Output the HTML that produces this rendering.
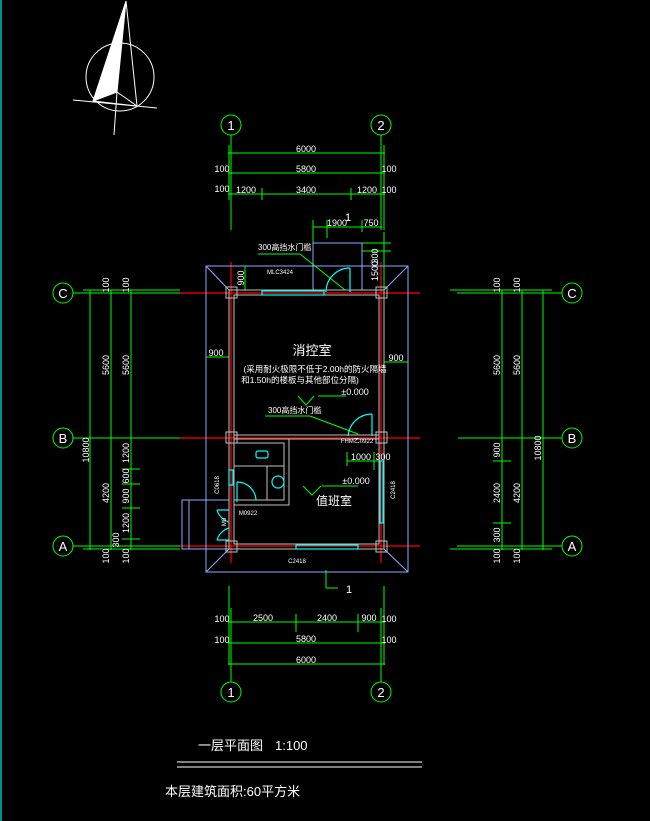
<!DOCTYPE html>
<html><head><meta charset="utf-8"><style>
html,body{margin:0;padding:0;background:#000;width:650px;height:821px;overflow:hidden}
svg{display:block}
text{font-family:"Liberation Sans","Noto Sans CJK SC",sans-serif;fill:#fff}
</style></head><body>
<svg width="650" height="821" viewBox="0 0 650 821" xmlns="http://www.w3.org/2000/svg">
<rect width="650" height="821" fill="#000"/>
<line x1="1" y1="0" x2="1" y2="821" stroke="#00c0c0" stroke-width="1.5"/>

<!-- compass -->
<g stroke="#fff" stroke-width="1" fill="none">
<circle cx="120" cy="77" r="34"/>
<polygon points="126,1 93,101 117,92" fill="#fff"/>
<line x1="126" y1="1" x2="137" y2="106"/>
<line x1="73" y1="100" x2="157" y2="108"/>
<line x1="117" y1="92" x2="114" y2="135"/>
<line x1="117" y1="92" x2="137" y2="106"/>
<line x1="93" y1="101" x2="137" y2="106"/>
</g>

<!-- axis bubbles -->
<g stroke="#00ff00" stroke-width="1" fill="none">
<circle cx="231" cy="125" r="10"/><circle cx="381" cy="125" r="10"/>
<circle cx="231" cy="692" r="10"/><circle cx="381" cy="692" r="10"/>
<circle cx="63" cy="293" r="10"/><circle cx="63" cy="438" r="10"/><circle cx="63" cy="546" r="10"/>
<circle cx="572" cy="293" r="10"/><circle cx="572" cy="438" r="10"/><circle cx="572" cy="546" r="10"/>
</g>
<g font-size="13" text-anchor="middle">
<text x="231" y="130">1</text><text x="381" y="130">2</text>
<text x="231" y="697">1</text><text x="381" y="697">2</text>
<text x="63" y="298">C</text><text x="63" y="443">B</text><text x="63" y="551">A</text>
<text x="572" y="298">C</text><text x="572" y="443">B</text><text x="572" y="551">A</text>
</g>

<!-- green dimension lines -->
<g stroke="#00ff00" stroke-width="1" fill="none">
<line x1="231" y1="135" x2="231" y2="230"/><line x1="381" y1="135" x2="381" y2="230"/>
<line x1="229" y1="145" x2="229" y2="200"/><line x1="384" y1="145" x2="384" y2="230"/>
<line x1="228" y1="153" x2="385" y2="153"/>
<line x1="228" y1="173" x2="385" y2="173"/>
<line x1="228" y1="194" x2="385" y2="194"/>
<line x1="262" y1="188" x2="262" y2="200"/><line x1="351" y1="188" x2="351" y2="200"/>
<line x1="313" y1="227" x2="382" y2="227"/>
<line x1="313" y1="220" x2="313" y2="243"/><line x1="327" y1="220" x2="327" y2="238"/><line x1="362" y1="220" x2="362" y2="232"/>
<line x1="362" y1="243" x2="391" y2="243"/><line x1="362" y1="251" x2="391" y2="251"/>
<line x1="384" y1="232" x2="384" y2="292"/>
<line x1="258" y1="254" x2="300" y2="254"/><line x1="300" y1="254" x2="345" y2="290"/>
<line x1="265" y1="416" x2="310" y2="416"/><line x1="310" y1="416" x2="358" y2="434"/>
<line x1="237" y1="266" x2="245" y2="266"/><line x1="245" y1="266" x2="245" y2="291"/>
<line x1="206" y1="357" x2="229" y2="357"/><line x1="206" y1="350" x2="206" y2="362"/><line x1="229" y1="350" x2="229" y2="365"/>
<line x1="384" y1="362" x2="408" y2="362"/><line x1="408" y1="352" x2="408" y2="372"/><line x1="384" y1="350" x2="384" y2="372"/>
<line x1="318" y1="396" x2="346" y2="396"/><polyline points="298,396 306,405 314,396"/>
<line x1="322" y1="486" x2="358" y2="486"/><polyline points="303,486 312,495 321,486"/>
<line x1="347" y1="461" x2="380" y2="461"/><line x1="347" y1="452" x2="347" y2="466"/><line x1="374" y1="452" x2="374" y2="470"/>
<line x1="326" y1="570" x2="326" y2="588"/><line x1="326" y1="588" x2="338" y2="588"/>
<line x1="229" y1="586" x2="229" y2="665"/><line x1="231" y1="608" x2="231" y2="682"/>
<line x1="384" y1="586" x2="384" y2="665"/><line x1="381" y1="608" x2="381" y2="682"/>
<line x1="228" y1="622" x2="385" y2="622"/><line x1="228" y1="643" x2="385" y2="643"/><line x1="228" y1="664" x2="385" y2="664"/>
<line x1="296" y1="614" x2="296" y2="632"/><line x1="358" y1="614" x2="358" y2="632"/>
<line x1="73" y1="293" x2="180" y2="293"/><line x1="83" y1="290" x2="180" y2="290"/>
<line x1="73" y1="438" x2="180" y2="438"/>
<line x1="73" y1="546" x2="180" y2="546"/><line x1="83" y1="549" x2="180" y2="549"/>
<line x1="90" y1="290" x2="90" y2="550"/><line x1="111" y1="290" x2="111" y2="550"/><line x1="131" y1="290" x2="131" y2="550"/>
<line x1="122" y1="469" x2="140" y2="469"/><line x1="122" y1="484" x2="140" y2="484"/><line x1="122" y1="508" x2="140" y2="508"/><line x1="122" y1="539" x2="140" y2="539"/>
<line x1="457" y1="293" x2="562" y2="293"/><line x1="450" y1="290" x2="552" y2="290"/>
<line x1="458" y1="438" x2="562" y2="438"/>
<line x1="457" y1="546" x2="562" y2="546"/><line x1="450" y1="549" x2="552" y2="549"/>
<line x1="502" y1="290" x2="502" y2="550"/><line x1="522" y1="290" x2="522" y2="550"/><line x1="543" y1="290" x2="543" y2="550"/>
<line x1="493" y1="461" x2="511" y2="461"/><line x1="493" y1="523" x2="511" y2="523"/>
</g>

<!-- red axes -->
<g stroke="#ff0000" stroke-width="1.2">
<line x1="180" y1="293" x2="420" y2="293"/>
<line x1="180" y1="438" x2="420" y2="438"/>
<line x1="180" y1="546" x2="420" y2="546"/>
<line x1="231" y1="262" x2="231" y2="563"/>
<line x1="381" y1="262" x2="381" y2="563"/>
</g>

<!-- canopy outline -->
<g stroke="#88aaff" stroke-width="1" fill="none">
<rect x="206" y="266" width="202" height="306"/>
<line x1="206" y1="266" x2="229" y2="290"/><line x1="408" y1="266" x2="384" y2="290"/>
<line x1="206" y1="572" x2="229" y2="549"/><line x1="408" y1="572" x2="384" y2="549"/>
<rect x="313" y="243" width="49" height="47"/>
<rect x="182" y="500" width="47" height="49"/>
<line x1="189" y1="500" x2="189" y2="549"/>
</g>

<!-- walls -->
<g stroke="#c0c0c0" stroke-width="1" fill="none">
<rect x="229" y="290" width="155" height="259"/>
<rect x="234" y="295" width="145" height="249"/>
<line x1="234" y1="435" x2="379" y2="435"/><line x1="234" y1="439" x2="379" y2="439"/>
<rect x="226" y="287" width="11" height="11"/><rect x="376" y="287" width="11" height="11"/>
<rect x="226" y="432" width="11" height="11"/><rect x="376" y="432" width="11" height="11"/>
<rect x="226" y="541" width="11" height="11"/><rect x="376" y="541" width="11" height="11"/>
<polyline points="234,505 289,505 289,439"/>
<polyline points="234,500 284,500 284,443 234,443"/>
<line x1="234" y1="466" x2="284" y2="466"/><line x1="267" y1="466" x2="267" y2="500"/>
</g>

<!-- cyan windows/doors -->
<g stroke="#00ffff" stroke-width="1.2" fill="none">
<rect x="262" y="291" width="62" height="4"/>
<line x1="350" y1="268" x2="350" y2="292"/><path d="M326,292 A24,24 0 0 1 350,268"/>
<line x1="372" y1="414" x2="372" y2="436"/><path d="M348,436 A24,24 0 0 1 372,414"/>
<rect x="296" y="545" width="62" height="4"/>
<rect x="380" y="461" width="3" height="62"/>
<rect x="229" y="470" width="4" height="15"/>
<line x1="237" y1="482" x2="237" y2="502"/><path d="M237,482 A19,19 0 0 1 256,500"/>
<path d="M217,510 L229,510 M217,510 A18,18 0 0 0 229,522"/>
<path d="M217,540 L229,540 M217,540 A18,18 0 0 1 229,528"/>
<rect x="256" y="451" width="12" height="7" rx="2"/>
<circle cx="278" cy="482" r="6"/>
</g>

<!-- labels -->
<g font-size="9" text-anchor="middle">
<text x="306" y="152">6000</text><text x="306" y="172">5800</text>
<text x="222" y="192">100</text><text x="389" y="172">100</text><text x="222" y="172">100</text>
<text x="246" y="193">1200</text><text x="306" y="193">3400</text><text x="367" y="193">1200</text><text x="389" y="193">100</text>
<text x="337" y="226">1900</text><text x="348" y="221" font-size="11">1</text><text x="371" y="226">750</text>
<text x="263" y="621">2500</text><text x="327" y="621">2400</text><text x="369" y="621">900</text>
<text x="222" y="622">100</text><text x="389" y="622">100</text>
<text x="306" y="642">5800</text><text x="222" y="643">100</text><text x="389" y="643">100</text>
<text x="306" y="663">6000</text>
<text x="349" y="593" font-size="11">1</text>
<text x="216" y="356">900</text><text x="396" y="361">900</text>
<text x="361" y="460">1000</text><text x="383" y="460">300</text>
<text x="355" y="395">±0.000</text><text x="356" y="484">±0.000</text>
</g>
<g font-size="6" text-anchor="middle">
<text x="280" y="274">MLC3424</text>
<text x="248" y="515">M0922</text>
<text x="297" y="563">C2418</text>
<text x="357" y="443">FHM乙0922</text>
</g>
<text x="258" y="250" font-size="8">300高挡水门槛</text>
<text x="268" y="413" font-size="8">300高挡水门槛</text>
<text x="312" y="355" font-size="13" text-anchor="middle">消控室</text>
<text x="315" y="372" font-size="8.5" text-anchor="middle">(采用耐火极限不低于2.00h的防火隔墙</text>
<text x="300" y="383" font-size="8.5" text-anchor="middle">和1.50h的楼板与其他部位分隔)</text>
<text x="334" y="505" font-size="12" text-anchor="middle">值班室</text>

<!-- rotated labels -->
<g font-size="9" text-anchor="middle">
<text transform="translate(89,450) rotate(-90)">10800</text>
<text transform="translate(109,365) rotate(-90)">5600</text>
<text transform="translate(129,365) rotate(-90)">5600</text>
<text transform="translate(109,493) rotate(-90)">4200</text>
<text transform="translate(109,285) rotate(-90)">100</text><text transform="translate(129,285) rotate(-90)">100</text>
<text transform="translate(109,556) rotate(-90)">100</text><text transform="translate(129,556) rotate(-90)">100</text>
<text transform="translate(129,453) rotate(-90)">1200</text>
<text transform="translate(129,476) rotate(-90)">600</text>
<text transform="translate(129,496) rotate(-90)">900</text>
<text transform="translate(129,523) rotate(-90)">1200</text>
<text transform="translate(119,540) rotate(-90)">300</text>
<text transform="translate(500,365) rotate(-90)">5600</text>
<text transform="translate(520,365) rotate(-90)">5600</text>
<text transform="translate(541,448) rotate(-90)">10800</text>
<text transform="translate(500,450) rotate(-90)">900</text>
<text transform="translate(500,493) rotate(-90)">2400</text>
<text transform="translate(500,535) rotate(-90)">300</text>
<text transform="translate(520,493) rotate(-90)">4200</text>
<text transform="translate(500,285) rotate(-90)">100</text><text transform="translate(520,285) rotate(-90)">100</text>
<text transform="translate(500,556) rotate(-90)">100</text><text transform="translate(520,556) rotate(-90)">100</text>
<text transform="translate(378,256) rotate(-90)">300</text>
<text transform="translate(378,271) rotate(-90)">1500</text>
<text transform="translate(244,278) rotate(-90)">900</text>
</g>
<g font-size="6" text-anchor="middle">
<text transform="translate(219,485) rotate(-90)">C0618</text>
<text transform="translate(395,490) rotate(-90)">C2418</text>
<text transform="translate(226,522) rotate(-90)">M0</text>
</g>

<!-- title -->
<text x="198" y="750" font-size="13">一层平面图</text>
<text x="275" y="750" font-size="13">1:100</text>
<line x1="177" y1="762" x2="422" y2="762" stroke="#fff" stroke-width="1"/>
<line x1="177" y1="767" x2="422" y2="767" stroke="#fff" stroke-width="1"/>
<text x="165" y="796" font-size="13">本层建筑面积:60平方米</text>
</svg>
</body></html>
